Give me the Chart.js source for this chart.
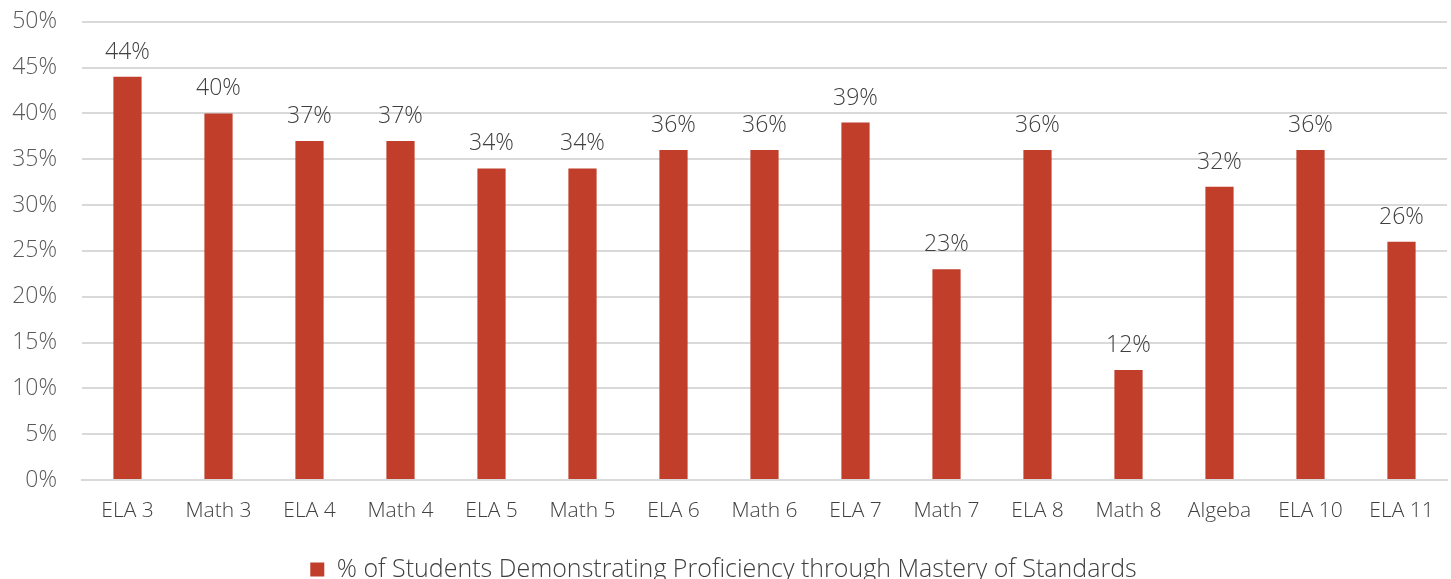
<!DOCTYPE html>
<html>
<head>
<meta charset="utf-8">
<script src="https://cdn.jsdelivr.net/npm/chart.js@4"></script>
<style>
  html, body { margin: 0; padding: 0; background: #fff; overflow: hidden; }
  #wrap { width: 1451px; height: 579px; overflow: hidden; position: relative; }
  #box { width: 1451px; height: 609px; position: absolute; left: 0; top: -17px; }
</style>
</head>
<body>
<div id="wrap"><div id="box"><canvas id="chart"></canvas></div></div>
<script>
// Werte
const categories = ['ELA 3', 'Math 3', 'ELA 4', 'Math 4', 'ELA 5', 'Math 5', 'ELA 6', 'Math 6',
  'ELA 7', 'Math 7', 'ELA 8', 'Math 8', 'Algeba', 'ELA 10', 'ELA 11'];
const proficiency = [44, 40, 37, 37, 34, 34, 36, 36, 39, 23, 36, 12, 32, 36, 26];
const seriesLabel = '% of Students Demonstrating Proficiency through Mastery of Standards';

const FONT = '"Open Sans", Lato, sans-serif';

// Beschriftung ueber den Balken
const barLabels = {
  id: 'barLabels',
  afterDatasetsDraw(chart) {
    const ctx = chart.ctx;
    const meta = chart.getDatasetMeta(0);
    ctx.save();
    ctx.font = '300 23px ' + FONT;
    ctx.fillStyle = '#404040';
    ctx.textAlign = 'center';
    ctx.textBaseline = 'alphabetic';
    meta.data.forEach((bar, i) => {
      ctx.fillText(proficiency[i] + '%', bar.x, bar.y - 18);
    });
    ctx.restore();
  }
};

new Chart(document.getElementById('chart'), {
  type: 'bar',
  data: {
    labels: categories,
    datasets: [{
      label: seriesLabel,
      data: proficiency,
      backgroundColor: '#C03E2A',
      categoryPercentage: 1,
      barPercentage: 0.31
    }]
  },
  options: {
    responsive: true,
    maintainAspectRatio: false,
    animation: false,
    layout: { padding: { top: 10, right: 4, left: 0, bottom: 0 } },
    plugins: {
      tooltip: { enabled: false },
      legend: {
        position: 'bottom',
        labels: {
          font: { family: FONT, size: 25, weight: '300' },
          color: '#404040',
          boxWidth: 14,
          boxHeight: 14,
          padding: 8
        }
      }
    },
    scales: {
      x: {
        afterFit(scale) { scale.height = 69; },
        grid: { display: false },
        border: { color: '#d9d9d9', width: 2 },
        ticks: {
          font: { family: FONT, size: 21, weight: '300' },
          color: '#404040',
          padding: 10,
          maxRotation: 0
        }
      },
      y: {
        min: 0,
        max: 50,
        afterFit(scale) { scale.width = 82; },
        grid: { color: '#d9d9d9', lineWidth: 2, drawTicks: false },
        border: { display: false },
        ticks: {
          stepSize: 5,
          padding: 25,
          font: { family: FONT, size: 23, weight: '300' },
          color: '#595959',
          callback: v => v + '%'
        }
      }
    }
  },
  plugins: [barLabels]
});
</script>
</body>
</html>
